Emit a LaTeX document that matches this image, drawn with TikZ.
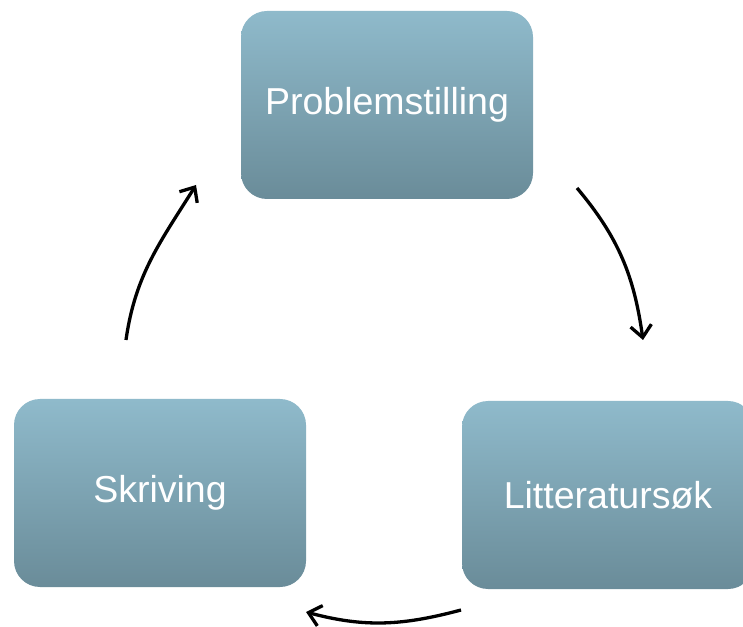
\documentclass[tikz,border=0pt]{standalone}
\usepackage{fontspec}
\setmainfont{Liberation Sans}
\usetikzlibrary{arrows.meta}
\definecolor{boxtop}{HTML}{8FBACB}
\definecolor{boxbot}{HTML}{6A8C99}
\tikzset{
  stagebox/.style={rectangle, rounded corners=26pt, minimum width=292pt, minimum height=188pt,
    top color=boxtop, bottom color=boxbot, draw=none, text=white,
    font=\fontsize{37.5}{44}\selectfont, inner sep=0pt},
  cyclearrow/.style={line width=3.3pt, -{Straight Barb[length=12pt,width=21pt]}}
}
\begin{document}
\begin{tikzpicture}[x=1pt,y=1pt]
\useasboundingbox (0,0) rectangle (743,626);
\node[stagebox] (prob) at (387,521) {Problemstilling};
\node[stagebox] (skriv) at (160,133) {Skriving};
\node[stagebox] (litt) at (608,131) {Litteratursøk};
\coordinate (a1s) at (577,438);
\coordinate (a1e) at (643,286);
\coordinate (a2s) at (461,16);
\coordinate (a2e) at (306,14);
\coordinate (a3s) at (126,286);
\coordinate (a3e) at (196,441);
\draw[cyclearrow] (a1s) to[out=-50,in=98] (a1e);
\draw[cyclearrow] (a2s) to[out=195,in=-15] (a2e);
\draw[cyclearrow] (a3s) to[out=82,in=238] (a3e);
\end{tikzpicture}
\end{document}
